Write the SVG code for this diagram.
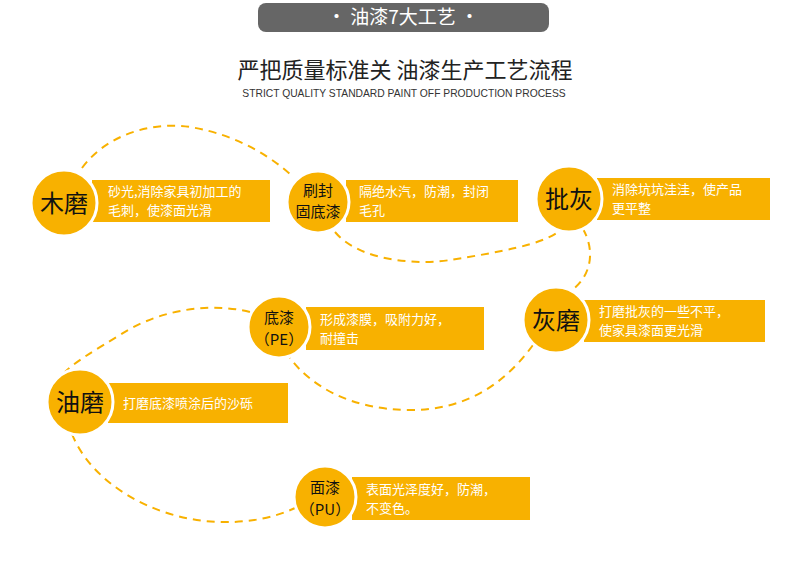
<svg xmlns="http://www.w3.org/2000/svg" width="792" height="569" viewBox="0 0 792 569">
<style>
.bar{fill:#f8b100}
.c{fill:#f8b100;stroke:#fff;stroke-width:3}
.bt{font-family:"Noto Sans CJK SC",sans-serif;font-size:13px;fill:#fff}
.ct{font-family:"Noto Sans CJK SC",sans-serif;fill:#111;text-anchor:middle}
.ln{fill:none;stroke:#f8b100;stroke-width:2;stroke-dasharray:8 6}
</style>
<rect width="792" height="569" fill="#fff"/>
<g id="header">
<rect x="258" y="3" width="291" height="29" rx="8" fill="#666"/>
<text x="403" y="24" font-family="Noto Sans CJK SC,sans-serif" font-size="19" fill="#fff" text-anchor="middle">·  油漆7大工艺  ·</text>
<text x="405" y="78" font-family="Noto Sans CJK SC,sans-serif" font-size="22" fill="#222" text-anchor="middle">严把质量标准关 油漆生产工艺流程</text>
<text x="404" y="97" font-family="Liberation Sans,sans-serif" font-size="10.3" fill="#333" text-anchor="middle">STRICT QUALITY STANDARD PAINT OFF PRODUCTION PROCESS</text>
</g>
<g id="connectors">
<path class="ln" d="M82 168 C110 130 160 122 190 127 C240 135 275 160 292 176"/>
<path class="ln" d="M335 232 C360 262 420 265 450 260 C500 252 540 245 558 232"/>
<path class="ln" d="M583 229 C595 250 592 275 572 290"/>
<path class="ln" d="M533 345 C500 390 460 410 410 410 C350 410 310 385 290 358"/>
<path class="ln" d="M250 312 C200 300 150 315 120 335 C95 350 75 362 65 372"/>
<path class="ln" d="M72 434 C90 480 150 520 220 522 C255 523 280 515 295 508"/>
</g>
<g id="mumo"><rect class="bar" x="92" y="180" width="178" height="42"/><circle class="c" cx="64" cy="203" r="33"/>
<text class="ct" x="64" y="212" font-size="24">木磨</text>
<text class="bt" x="108" y="196">砂光,消除家具初加工的</text><text class="bt" x="108" y="215">毛刺，使漆面光滑</text></g>
<g id="shuafeng"><rect class="bar" x="346" y="180" width="172" height="42"/><circle class="c" cx="318" cy="202" r="31"/>
<text class="ct" x="318" y="196" font-size="15">刷封</text><text class="ct" x="318" y="217" font-size="15">固底漆</text>
<text class="bt" x="359" y="196">隔绝水汽，防潮，封闭</text><text class="bt" x="359" y="215">毛孔</text></g>
<g id="pihui"><rect class="bar" x="597" y="178" width="173" height="42"/><circle class="c" cx="569" cy="199" r="33"/>
<text class="ct" x="569" y="208" font-size="24">批灰</text>
<text class="bt" x="612" y="194">消除坑坑洼洼，使产品</text><text class="bt" x="612" y="213">更平整</text></g>
<g id="huimo"><rect class="bar" x="584" y="300" width="181" height="42"/><circle class="c" cx="556" cy="320" r="33"/>
<text class="ct" x="556" y="329" font-size="24">灰磨</text>
<text class="bt" x="599" y="316">打磨批灰的一些不平，</text><text class="bt" x="599" y="335">使家具漆面更光滑</text></g>
<g id="diqi"><rect class="bar" x="306" y="307" width="178" height="43"/><circle class="c" cx="279" cy="327" r="31"/>
<text class="ct" x="279" y="323" font-size="15">底漆</text><text class="ct" x="279" y="345" font-size="15">（PE）</text>
<text class="bt" x="320" y="324">形成漆膜，吸附力好，</text><text class="bt" x="320" y="343">耐撞击</text></g>
<g id="youmo"><rect class="bar" x="108" y="383" width="180" height="40"/><circle class="c" cx="80" cy="402" r="33"/>
<text class="ct" x="80" y="411" font-size="24">油磨</text>
<text class="bt" x="123" y="408">打磨底漆喷涂后的沙砾</text></g>
<g id="mianqi"><rect class="bar" x="352" y="477" width="178" height="43"/><circle class="c" cx="325" cy="497" r="31"/>
<text class="ct" x="325" y="493" font-size="15">面漆</text><text class="ct" x="325" y="515" font-size="15">（PU）</text>
<text class="bt" x="366" y="494">表面光泽度好，防潮，</text><text class="bt" x="366" y="513">不变色。</text></g>
</svg>
